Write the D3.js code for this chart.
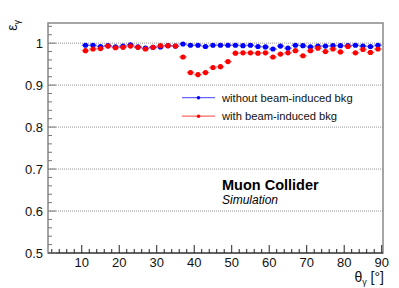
<!DOCTYPE html>
<html>
<head>
<meta charset="utf-8">
<script src="https://cdn.jsdelivr.net/npm/d3@7"></script>
<style>
  body { margin: 0; background: #fff; }
  svg { display: block; font-family: "Liberation Sans", Arial, sans-serif; }
</style>
</head>
<body>
<svg id="chart" width="399" height="288"></svg>
<script>
// bin centres (2 degree bins, 10..90)
const theta = [11, 13, 15, 17, 19, 21, 23, 25, 27, 29, 31, 33, 35, 37, 39, 41, 43, 45, 47, 49,
               51, 53, 55, 57, 59, 61, 63, 65, 67, 69, 71, 73, 75, 77, 79, 81, 83, 85, 87, 89];

const effNoBkg = [0.995, 0.995, 0.992, 0.994, 0.991, 0.993, 0.996, 0.991, 0.988, 0.990,
                  0.991, 0.994, 0.993, 0.998, 0.995, 0.995, 0.992, 0.995, 0.995, 0.995,
                  0.995, 0.994, 0.995, 0.992, 0.991, 0.986, 0.993, 0.988, 0.995, 0.994,
                  0.991, 0.993, 0.993, 0.994, 0.994, 0.994, 0.995, 0.993, 0.992, 0.995];
const errNoBkg = Array.from(theta, () => 0.002);

const effBkg = [0.982, 0.986, 0.987, 0.993, 0.989, 0.990, 0.993, 0.990, 0.986, 0.990,
                0.994, 0.994, 0.993, 0.967, 0.930, 0.925, 0.930, 0.942, 0.944, 0.956,
                0.976, 0.977, 0.977, 0.976, 0.977, 0.967, 0.974, 0.977, 0.982, 0.970,
                0.982, 0.988, 0.980, 0.986, 0.979, 0.992, 0.977, 0.985, 0.978, 0.986];
const errBkg = [0.003, 0.003, 0.003, 0.003, 0.003, 0.003, 0.003, 0.003, 0.003, 0.003,
                0.003, 0.003, 0.003, 0.005, 0.006, 0.006, 0.006, 0.006, 0.006, 0.005,
                0.004, 0.004, 0.004, 0.004, 0.004, 0.004, 0.004, 0.004, 0.004, 0.004,
                0.004, 0.003, 0.004, 0.003, 0.004, 0.003, 0.004, 0.003, 0.004, 0.003];

const binHalf = 1;
const xTicks = [10, 20, 30, 40, 50, 60, 70, 80, 90];
const yTicks = [0.5, 0.6, 0.7, 0.8, 0.9, 1];

const series = [
  { name: "without beam-induced bkg", color: "#0000ff", y: effNoBkg, err: errNoBkg },
  { name: "with beam-induced bkg", color: "#ff0000", y: effBkg, err: errBkg }
];

const svg = d3.select("#chart");
const padL = 48, padR = 383, padT = 23, padB = 253;

const x = d3.scaleLinear().domain([1, 90.35]).range([padL, padR]);
const y = d3.scaleLinear().domain([0.5, 1.048]).range([padB, padT]);

// grid
svg.append("g").selectAll("line")
  .data(yTicks.filter(v => v > 0.5))
  .join("line")
  .attr("x1", padL).attr("x2", padR)
  .attr("y1", d => y(d)).attr("y2", d => y(d))
  .attr("stroke", "#999").attr("stroke-width", 1)
  .attr("stroke-dasharray", "1,1");

// frame
svg.append("rect")
  .attr("x", padL).attr("y", padT)
  .attr("width", padR - padL).attr("height", padB - padT)
  .attr("fill", "none").attr("stroke", "#888").attr("stroke-width", 1.5);

// x axis ticks (inward)
const xMinor = d3.range(2, 91, 2);
svg.append("g").selectAll("line")
  .data(xMinor)
  .join("line")
  .attr("x1", d => x(d)).attr("x2", d => x(d))
  .attr("y1", padB).attr("y2", d => padB - (d % 10 === 0 ? 8 : 4))
  .attr("stroke", "#222").attr("stroke-width", 1);
svg.append("line")
  .attr("x1", padL).attr("x2", padR).attr("y1", padB).attr("y2", padB)
  .attr("stroke", "#222").attr("stroke-width", 1.2);

svg.append("g").selectAll("text")
  .data(xTicks)
  .join("text")
  .attr("x", d => x(d)).attr("y", 267)
  .attr("text-anchor", "middle")
  .attr("font-size", 13).attr("fill", "#111")
  .text(d => d);

// y axis ticks (inward)
const yMinor = d3.range(50, 105, 2).map(v => v / 100);
svg.append("g").selectAll("line")
  .data(yMinor)
  .join("line")
  .attr("x1", padL).attr("x2", d => padL + (Math.round(d * 100) % 10 === 0 ? 8 : 4))
  .attr("y1", d => y(d)).attr("y2", d => y(d))
  .attr("stroke", "#777").attr("stroke-width", 1);

svg.append("g").selectAll("text")
  .data(yTicks)
  .join("text")
  .attr("x", 43).attr("y", d => y(d) + 5)
  .attr("text-anchor", "end")
  .attr("font-size", 13).attr("fill", "#111")
  .text(d => d === 1 ? "1" : d3.format(".1f")(d));

// axis titles
const xt = svg.append("text")
  .attr("x", 384).attr("y", 282)
  .attr("text-anchor", "end")
  .attr("font-size", 14).attr("fill", "#111");
xt.append("tspan").text("θ");
xt.append("tspan").attr("font-size", 9).attr("dy", 3).text("γ");
xt.append("tspan").attr("dy", -3).text(" [°]");

const yt = svg.append("text")
  .attr("transform", "translate(17,20) rotate(-90)")
  .attr("text-anchor", "end")
  .attr("font-size", 14).attr("fill", "#111");
yt.append("tspan").text("ε");
yt.append("tspan").attr("font-size", 9).attr("dy", 3).text("γ");

// data
series.forEach(s => {
  const g = svg.append("g");
  const pts = theta.map((t, i) => ({ t, v: s.y[i], e: s.err[i] }));
  g.selectAll("line.h")
    .data(pts).join("line").attr("class", "h")
    .attr("x1", d => x(d.t - binHalf)).attr("x2", d => x(d.t + binHalf))
    .attr("y1", d => y(d.v)).attr("y2", d => y(d.v))
    .attr("stroke", s.color).attr("stroke-opacity", 0.55).attr("stroke-width", 1.5);
  g.selectAll("line.v")
    .data(pts).join("line").attr("class", "v")
    .attr("x1", d => x(d.t)).attr("x2", d => x(d.t))
    .attr("y1", d => y(d.v - d.e)).attr("y2", d => y(d.v + d.e))
    .attr("stroke", s.color).attr("stroke-opacity", 0.55).attr("stroke-width", 1.5);
  g.selectAll("circle")
    .data(pts).join("circle")
    .attr("cx", d => x(d.t)).attr("cy", d => y(d.v))
    .attr("r", 2.6).attr("fill", s.color);
});

// legend
const leg = svg.append("g");
series.forEach((s, i) => {
  const ly = 97.7 + i * 18.5;
  leg.append("line")
    .attr("x1", 182).attr("x2", 215).attr("y1", ly).attr("y2", ly)
    .attr("stroke", s.color).attr("stroke-opacity", 0.6).attr("stroke-width", 1.2);
  leg.append("circle").attr("cx", 198.5).attr("cy", ly).attr("r", 1.8).attr("fill", s.color);
  leg.append("text")
    .attr("x", 222).attr("y", ly + 4)
    .attr("font-size", 11.2).attr("fill", "#111")
    .text(s.name);
});

svg.append("text")
  .attr("x", 222).attr("y", 190)
  .attr("font-size", 14.5).attr("font-weight", "bold").attr("fill", "#000")
  .text("Muon Collider");
svg.append("text")
  .attr("x", 222).attr("y", 204)
  .attr("font-size", 12).attr("font-style", "italic").attr("fill", "#000")
  .text("Simulation");
</script>
</body>
</html>
